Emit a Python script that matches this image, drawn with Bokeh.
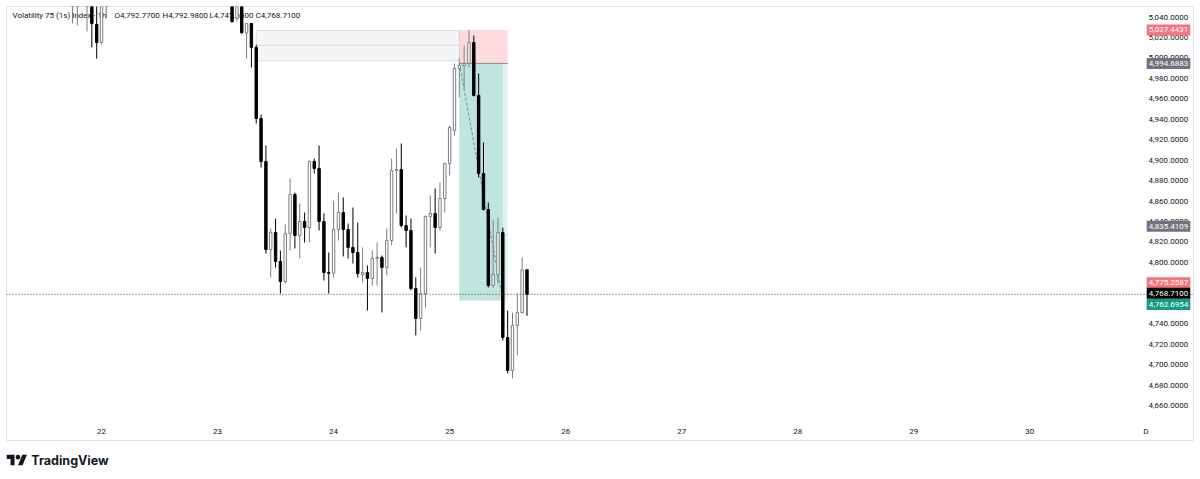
from bokeh.plotting import figure
from bokeh.models import Range1d, FixedTicker, NumeralTickFormatter, Span, Label, ColumnDataSource
from bokeh.layouts import column
from bokeh.embed import file_html
from bokeh.resources import INLINE
from bokeh.core.properties import value

# ---------------- data (hours counted from day 22 00:00, 1h candles) ----------------
hours = [-6, -5, -3, -2, -1, 0, 1,
         27, 28, 29, 30, 31, 32, 33, 34, 35, 36, 37, 38, 39, 40, 41, 42, 43, 44, 45,
         46, 47, 48, 49, 50, 51, 52, 53, 54, 55, 56, 57, 58, 59, 60, 61, 62, 63, 64,
         65, 66, 67, 68, 69, 70, 71, 72, 73, 74, 75, 76, 77, 78, 79, 80, 81, 82, 83,
         84, 85, 86, 87, 88]
opens = [5052.0, 5053.0, 5052.0, 5055.0, 5032.8, 5015.1, 5052.0,
         5058.0, 5038.6, 5055.0, 5024.5, 5033.7, 5010.3, 4940.8, 4898.7, 4812.6, 4829.2, 4800.9, 4781.3, 4828.3, 4866.4, 4826.3, 4840.0, 4834.1, 4898.7, 4891.9,
         4840.0, 4790.1, 4789.4, 4832.2, 4848.8, 4832.2, 4814.6, 4809.7, 4788.1, 4790.1, 4784.2, 4803.8, 4804.8, 4795.0, 4821.4, 4889.9, 4890.9, 4836.1, 4831.2,
         4774.4, 4745.1, 4769.5, 4844.9, 4847.8, 4834.1, 4862.5, 4896.7, 4929.0, 4989.7, 4992.6, 4994.6, 5015.1, 4963.3, 4886.9, 4851.7, 4777.4, 4788.1, 4829.2,
         4726.5, 4694.2, 4738.2, 4750.9, 4792.77]
highs = [5066.0, 5068.0, 5064.0, 5060.0, 5052.0, 5058.0, 5066.0,
         5062.0, 5058.0, 5060.0, 5033.7, 5034.5, 5013.0, 4944.7, 4914.4, 4833.1, 4842.9, 4811.6, 4837.1, 4882.1, 4868.4, 4857.6, 4848.8, 4899.7, 4901.6, 4914.4,
         4847.8, 4809.7, 4860.5, 4868.4, 4863.5, 4838.0, 4853.7, 4839.0, 4814.6, 4796.9, 4811.6, 4819.5, 4806.7, 4833.1, 4901.6, 4911.4, 4916.3, 4845.9, 4842.9,
         4785.2, 4795.0, 4845.9, 4865.4, 4872.3, 4878.2, 4897.7, 4933.9, 4994.6, 4999.5, 5012.2, 5026.9, 5022.0, 4984.8, 4917.3, 4858.6, 4841.0, 4843.9, 4834.1,
         4752.9, 4750.9, 4769.5, 4804.8, 4792.98]
lows = [5033.7, 5031.8, 5025.9, 5010.3, 4999.4, 5013.2, 5038.6,
        5034.5, 5036.0, 5023.5, 4999.5, 4990.7, 4935.9, 4892.8, 4808.7, 4785.2, 4795.0, 4769.5, 4779.3, 4811.6, 4813.6, 4803.8, 4819.5, 4819.5, 4886.9, 4831.2,
        4782.3, 4769.5, 4785.2, 4821.4, 4805.8, 4803.8, 4798.9, 4785.2, 4780.3, 4752.9, 4777.4, 4777.4, 4751.0, 4787.2, 4816.5, 4847.8, 4834.1, 4814.6, 4772.5,
        4728.5, 4733.3, 4755.9, 4814.6, 4808.7, 4831.2, 4848.8, 4885.0, 4924.1, 4961.3, 4970.1, 4990.7, 4962.3, 4883.0, 4850.8, 4775.4, 4775.4, 4779.3, 4723.6,
        4691.3, 4686.4, 4708.9, 4750.0, 4747.66]
closes = [5060.0, 5061.0, 5058.0, 5033.7, 5015.1, 5052.0, 5062.0,
          5035.7, 5052.0, 5024.9, 5033.7, 5010.3, 4940.8, 4898.7, 4812.6, 4829.2, 4800.9, 4781.3, 4828.3, 4866.4, 4826.3, 4840.0, 4834.1, 4898.7, 4891.9, 4840.0,
          4790.1, 4789.4, 4832.2, 4848.8, 4832.2, 4814.6, 4809.7, 4789.1, 4790.1, 4784.2, 4803.8, 4804.8, 4795.0, 4821.4, 4889.9, 4890.9, 4836.1, 4831.2, 4774.4,
          4745.1, 4769.5, 4844.9, 4847.8, 4834.1, 4862.5, 4896.7, 4932.0, 4989.7, 4992.6, 4994.6, 5015.1, 4963.3, 4886.9, 4851.7, 4777.4, 4788.1, 4829.2, 4726.5,
          4694.2, 4738.2, 4750.9, 4792.7, 4768.71]

day_ticks = [0, 24, 48, 72, 96, 120, 144, 168, 192, 216]
day_labels = ["22", "23", "24", "25", "26", "27", "28", "29", "30", "D"]
price_ticks = [4660, 4680, 4700, 4720, 4740, 4760, 4780, 4800, 4820, 4840, 4860,
               4880, 4900, 4920, 4940, 4960, 4980, 5000, 5020, 5040]

# imbalance boxes
zone_left = [32, 32]
zone_right = [74, 74]
zone_top = [5026.9, 5012.2]
zone_bottom = [5012.5, 4997.2]

# short position tool
pos_start, pos_hit, pos_end = 74, 83, 84
stop_price = 5027.4431
entry_price = 4994.6883
target_price = 4762.6954
other_level = 4835.4109
alert_level = 4775.2587
last_close = 4768.71

title_text = "Volatility 75 (1s) Index · 1h"
ohlc_text = ["O4,792.7700", "H4,792.9800", "L4,747.6600", "C4,768.7100"]

# ---------------- figure ----------------
FONT = "Roboto"
TXT = "#131722"
p = figure(width=1198, height=446, x_range=Range1d(-19.65, 225.85), y_range=Range1d(4625.7, 5050.37),
           y_axis_location="right", output_backend="svg", toolbar_location=None,
           min_border_left=6, min_border_top=6, min_border_right=5, min_border_bottom=6,
           background_fill_color="white", border_fill_color="white",
           outline_line_color="#e0e3eb", outline_line_width=1)
p.grid.visible = False

xa = p.xaxis[0]
xa.ticker = FixedTicker(ticks=day_ticks)
xa.major_label_overrides = {t: l for t, l in zip(day_ticks, day_labels)}
ya = p.yaxis[0]
ya.ticker = FixedTicker(ticks=price_ticks)
ya.formatter = NumeralTickFormatter(format="0,0.0000")
for ax in (xa, ya):
    ax.axis_line_color = None
    ax.major_tick_line_color = None
    ax.minor_tick_line_color = None
    ax.major_tick_out = 0
    ax.major_tick_in = 0
    ax.major_label_text_font = FONT
    ax.major_label_text_font_size = "8px"
    ax.major_label_text_color = TXT
xa.major_label_standoff = -14
ya.major_label_standoff = -45

# legend title (under candles)
title_x = [-18.41, 2.69, 12.62, 22.34, 31.85]
p.text(x=title_x, y=[5041.6] * 5, text=[title_text] + ohlc_text,
       text_font=value(FONT), text_font_size="8px", text_color=TXT,
       text_align="left", text_baseline="middle")

# zones
p.quad(left=zone_left, right=zone_right, top=zone_top, bottom=zone_bottom,
       fill_color="#f4f5f7", line_color="#dcdee3", line_width=1)

# position tool
p.quad(left=[pos_start], right=[pos_end], top=[stop_price], bottom=[entry_price],
       fill_color="#f23645", fill_alpha=0.18, line_color=None)
p.quad(left=[pos_start], right=[pos_hit], top=[entry_price], bottom=[target_price],
       fill_color="#089981", fill_alpha=0.26, line_color=None)
p.quad(left=[pos_hit], right=[pos_end], top=[entry_price], bottom=[target_price],
       fill_color="#089981", fill_alpha=0.12, line_color=None)
p.segment(x0=[pos_start], y0=[entry_price], x1=[pos_end], y1=[entry_price],
          line_color="#8a8d96", line_width=1)
p.line(x=[pos_start, pos_hit], y=[entry_price, target_price],
       line_color="#6d8f8a", line_width=1, line_dash="3 2")

# last price line
p.add_layout(Span(location=last_close, dimension="width", line_color="#4a4a4a",
                  line_width=1, line_dash="1 2"))

# candles
up_i = [i for i in range(len(hours)) if closes[i] >= opens[i]]
dn_i = [i for i in range(len(hours)) if closes[i] < opens[i]]

def src(idx):
    return ColumnDataSource(dict(
        x=[hours[i] for i in idx],
        high=[highs[i] for i in idx],
        low=[lows[i] for i in idx],
        top=[max(opens[i], closes[i]) for i in idx],
        bottom=[min(opens[i], closes[i]) for i in idx]))

su, sd = src(up_i), src(dn_i)
p.segment(x0="x", y0="high", x1="x", y1="low", source=su, line_color="#7b7e87", line_width=1)
p.vbar(x="x", width=0.5, top="top", bottom="bottom", source=su,
       fill_color="white", line_color="#7b7e87", line_width=1)
p.segment(x0="x", y0="high", x1="x", y1="low", source=sd, line_color="#000000", line_width=1)
p.vbar(x="x", width=0.5, top="top", bottom="bottom", source=sd,
       fill_color="#000000", line_color="#000000", line_width=1)

# price-scale markers
marker_x = 220.68
markers = [(stop_price, "#f4767e", 0), (entry_price, "#70737e", 0), (other_level, "#70737e", 0),
           (alert_level, "#f4767e", 5), (last_close, "#000000", 1), (target_price, "#129c86", -4)]
for val, col, off in markers:
    p.add_layout(Label(x=marker_x, y=val, y_offset=off, text=f"{val:,.4f}",
                       text_font=FONT, text_font_size="8px", text_color="white",
                       text_align="center", text_baseline="middle",
                       background_fill_color=col, background_fill_alpha=1.0,
                       padding=(2, 3)))

# ---------------- footer with logo ----------------
f = figure(width=1198, height=32, x_range=Range1d(0, 1198), y_range=Range1d(478, 446),
           output_backend="svg", toolbar_location=None, x_axis_type=None, y_axis_type=None,
           min_border=0, min_border_left=0, min_border_right=0, min_border_top=0,
           min_border_bottom=0, outline_line_color=None, background_fill_color="white",
           border_fill_color="white")
f.grid.visible = False
s = 0.58
ox, oy = 0, 452
f.patch(x=[ox + s * v for v in [0, 14, 14, 7, 7, 0]], y=[oy + s * v for v in [4, 4, 22, 22, 11, 11]],
        fill_color="#131722", line_color=None)
f.circle(x=[ox + s * 20], y=[oy + s * 8], radius=s * 4, fill_color="#131722", line_color=None)
f.patch(x=[ox + s * v for v in [20, 27.5, 35.5, 28]], y=[oy + s * v for v in [22, 4, 4, 22]],
        fill_color="#131722", line_color=None)
f.text(x=[25], y=[460], text=["TradingView"], text_font=value("Inter"), text_font_size="12.5px",
       text_font_style="bold", text_color="#131722", text_align="left", text_baseline="middle")

layout = column(p, f, spacing=0)
open("out.html", "w").write(file_html(layout, INLINE))
